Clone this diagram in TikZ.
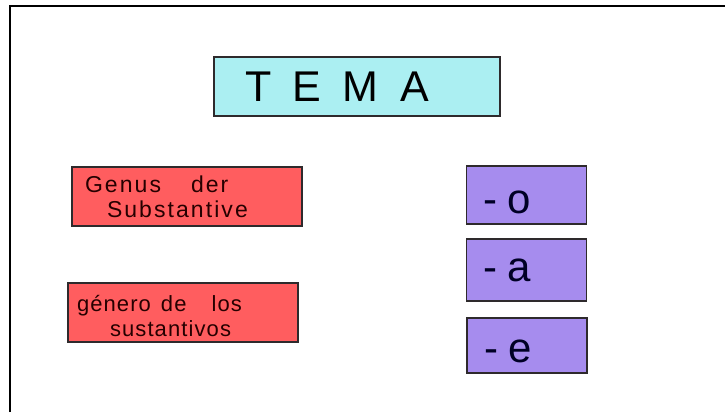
\documentclass[tikz,border=0pt]{standalone}
\usepackage{fontspec}
\setmainfont{Liberation Sans}
\newfontfamily\temafont[LetterSpace=50]{Liberation Sans}
\newfontfamily\genusfont[LetterSpace=9]{Liberation Sans}
\newfontfamily\generofont[LetterSpace=5]{Liberation Sans}
\newfontfamily\endfont[LetterSpace=25]{Liberation Sans}
\usepackage{tikz}

\definecolor{temablue}{HTML}{ABEFF2}
\definecolor{genusred}{HTML}{FF5D5F}
\definecolor{endlila}{HTML}{A68CEE}
\definecolor{cardline}{HTML}{2E2A2C}

\begin{document}
\begin{tikzpicture}[x=1pt,y=-1pt,
  card/.style={draw=cardline,line width=1.8pt,inner ysep=0pt,align=left},
  redcard/.style={card,fill=genusred,minimum width=230pt,minimum height=59pt,text=black!85!red},
  lilacard/.style={card,fill=endlila,minimum width=120pt,minimum height=58pt,text=black!85!blue,
    text width=86pt,inner xsep=17pt,text depth=0pt,font=\fontsize{42}{42}\endfont}]
  \useasboundingbox (0,0) rectangle (725,412);
  \draw[line width=2pt] (10,412) -- (10,5.7) -- (725,5.7); %frame
  \node[card,fill=temablue,minimum width=286pt,minimum height=59pt,text width=224pt,inner xsep=31pt,
    font=\fontsize{43}{43}\temafont] (tema) at (357,86.5) {TEMA};
  \node[redcard,text width=204pt,inner xsep=13pt,font=\fontsize{23}{25}\genusfont]
    (genus) at (187,196.5) {Genus\hspace*{30pt}der\\\hspace*{22pt}Substantive};
  \node[redcard,text width=212pt,inner xsep=9pt,font=\fontsize{22}{25}\generofont]
    (genero) at (183,312.5) {\rule{0pt}{24pt}género\hspace*{10pt}de\hspace*{25pt}los\\\hspace*{33pt}sustantivos};
  \node[lilacard,text height=36pt] (endo) at (526.5,195) {-o};
  \node[lilacard,minimum height=62pt,text height=23pt,inner xsep=16pt] (enda) at (526.5,270) {-a};
  \node[lilacard,minimum height=55pt,text height=33pt] (ende) at (527,345.5) {-e};
\end{tikzpicture}
\end{document}
